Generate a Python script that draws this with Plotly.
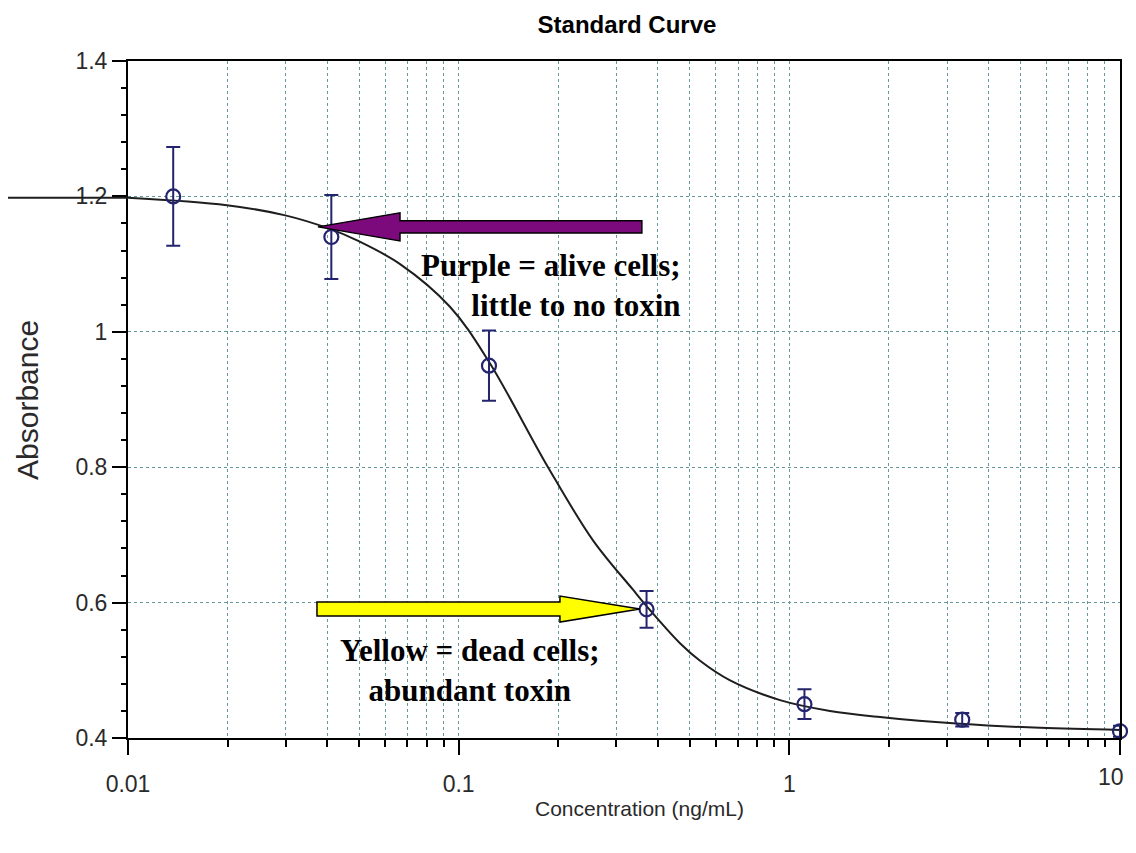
import plotly.graph_objects as go

# ---- data ----
conc = [0.0137, 0.0412, 0.1235, 0.370, 1.111, 3.333, 10.0]
absorb = [1.200, 1.140, 0.950, 0.590, 0.450, 0.427, 0.410]
err = [0.073, 0.062, 0.052, 0.027, 0.022, 0.010, 0.008]

curve_x = [0.01, 0.0199, 0.0299, 0.0408, 0.0493, 0.0665, 0.0941, 0.1227, 0.1863,
           0.2548, 0.3367, 0.3712, 0.467, 0.537, 0.662, 0.937, 1.327, 1.88, 3.28, 5.73, 10.0]
curve_y = [1.198, 1.187, 1.172, 1.152, 1.135, 1.100, 1.037, 0.958, 0.800,
           0.692, 0.619, 0.594, 0.540, 0.514, 0.485, 0.456, 0.440, 0.431, 0.421, 0.415, 0.412]

x_tickvals = [0.01, 0.1, 1, 10]
x_ticktext = ["0.01", "0.1", "1", "10"]
y_tickvals = [0.4, 0.6, 0.8, 1.0, 1.2, 1.4]
y_ticktext = ["0.4", "0.6", "0.8", "1", "1.2", "1.4"]

# arrows: (tip log10-x, tip y, head-base log10-x, tail log10-x)
purple_arrow = (-1.4255, 1.155, -1.1775, -0.446)
yellow_arrow = (-0.452, 0.5905, -0.6937, -1.4285)

XR = (-2.0, 1.0)
YR = (0.4, 1.4)

minor_x = [m * 10.0 ** k for k in (-2, -1, 0) for m in range(2, 10)]

SANS = "Liberation Sans, Arial, sans-serif"
SERIF = "Liberation Serif, Times New Roman, serif"
GRID = "#66979a"
MARK = "#23236e"
TXT = "#2a2a2a"

# page body adds an 8px offset; figure is sized/margined to compensate
FIG_W, FIG_H = 1128, 830

fig = go.Figure()

fig.add_trace(go.Scatter(
    x=curve_x, y=curve_y, mode="lines",
    line=dict(color="#1e1e1e", width=2, shape="spline", smoothing=1.0),
    hoverinfo="skip", showlegend=False))

fig.add_trace(go.Scatter(
    x=conc, y=absorb, mode="markers",
    marker=dict(symbol="circle-open", size=14, color=MARK, line=dict(width=2.2, color=MARK)),
    error_y=dict(type="data", array=err, visible=True, color=MARK, thickness=2, width=7),
    cliponaxis=False, showlegend=False))


def to_paper(lx, y):
    return (lx - XR[0]) / (XR[1] - XR[0]), (y - YR[0]) / (YR[1] - YR[0])


def arrow_path(tip_lx, tip_y, base_lx, tail_lx, half_body, half_head):
    pts = [(tail_lx, tip_y - half_body), (base_lx, tip_y - half_body),
           (base_lx, tip_y - half_head), (tip_lx, tip_y),
           (base_lx, tip_y + half_head), (base_lx, tip_y + half_body),
           (tail_lx, tip_y + half_body)]
    pp = [to_paper(a, b) for a, b in pts]
    return "M " + " L ".join(f"{a:.5f},{b:.5f}" for a, b in pp) + " Z"


shapes = [
    dict(type="path", xref="paper", yref="paper",
         path=arrow_path(*purple_arrow, 0.0089, 0.0207),
         fillcolor="#7d0a7d", line=dict(color="black", width=1.5)),
    dict(type="path", xref="paper", yref="paper",
         path=arrow_path(*yellow_arrow, 0.0103, 0.0192),
         fillcolor="#ffff00", line=dict(color="black", width=1.5)),
    # curve continuation into the left margin
    dict(type="line", xref="paper", yref="paper",
         x0=-0.122, x1=0.0, y0=to_paper(0, curve_y[0])[1], y1=to_paper(0, curve_y[0])[1],
         line=dict(color="#1e1e1e", width=2)),
]

# the last x tick label sits at the page edge; draw it right-aligned so it stays visible
edge_label = x_ticktext[-1]
axis_ticktext = x_ticktext[:-1] + [""]

annotations = [
    dict(text="<b>Purple = alive cells;</b><br><b>little to no toxin</b>",
         x=-0.322, y=1.0677, xref="x", yref="y", xanchor="right", yanchor="middle",
         align="right", showarrow=False,
         font=dict(family=SERIF, size=31, color="black")),
    dict(text="<b>Yellow = dead cells;</b><br><b>abundant toxin</b>",
         x=-0.966, y=0.5004, xref="x", yref="y", xanchor="center", yanchor="middle",
         align="center", showarrow=False,
         font=dict(family=SERIF, size=31, color="black")),
    dict(text=edge_label, x=1.0065, y=-0.0576, xref="paper", yref="paper",
         xanchor="right", yanchor="middle", showarrow=False,
         font=dict(family=SANS, size=23, color=TXT)),
    # axis titles
    dict(text="Concentration (ng/mL)", x=0.516, y=-0.1034, xref="paper", yref="paper",
         xanchor="center", yanchor="middle", showarrow=False,
         font=dict(family=SANS, size=21, color=TXT)),
    dict(text="Absorbance", x=-0.1008, y=0.4993, xref="paper", yref="paper",
         xanchor="center", yanchor="middle", textangle=-90, showarrow=False,
         font=dict(family=SANS, size=30, color=TXT)),
]

fig.update_layout(
    width=FIG_W, height=FIG_H,
    margin=dict(l=120, r=16, t=53, b=100, autoexpand=False),
    paper_bgcolor="white", plot_bgcolor="white",
    title=dict(text="<b>Standard Curve</b>", x=0.503, xref="paper", y=1 - 17 / FIG_H,
               yanchor="middle", xanchor="center",
               font=dict(family=SANS, size=24, color="black")),
    shapes=shapes, annotations=annotations,
    showlegend=False,
)

fig.update_xaxes(
    type="log", range=list(XR),
    tickmode="array", tickvals=x_tickvals, ticktext=axis_ticktext,
    ticks="outside", ticklen=15, tickwidth=2, tickcolor="black",
    showline=True, linecolor="black", linewidth=2, mirror=True,
    showgrid=True, gridcolor=GRID, gridwidth=1.3, griddash="dot",
    ticklabelstandoff=9,
    tickfont=dict(family=SANS, size=23, color=TXT),
    minor=dict(tickmode="array", tickvals=minor_x, ticks="outside", ticklen=7,
               tickwidth=1.5, tickcolor="black", showgrid=True, gridcolor=GRID,
               gridwidth=1.3, griddash="dot"),
    zeroline=False, automargin=False,
)

fig.update_yaxes(
    range=list(YR),
    tickmode="array", tickvals=y_tickvals, ticktext=y_ticktext,
    ticks="outside", ticklen=14, tickwidth=2, tickcolor="black",
    showline=True, linecolor="black", linewidth=2, mirror=True,
    showgrid=True, gridcolor=GRID, gridwidth=1.3, griddash="dot",
    tickfont=dict(family=SANS, size=23, color=TXT),
    minor=dict(dtick=0.04, tick0=0.4, ticks="outside", ticklen=5, tickwidth=1.5,
               tickcolor="black", showgrid=False),
    zeroline=False, automargin=False,
)

fig.write_html("out.html")
